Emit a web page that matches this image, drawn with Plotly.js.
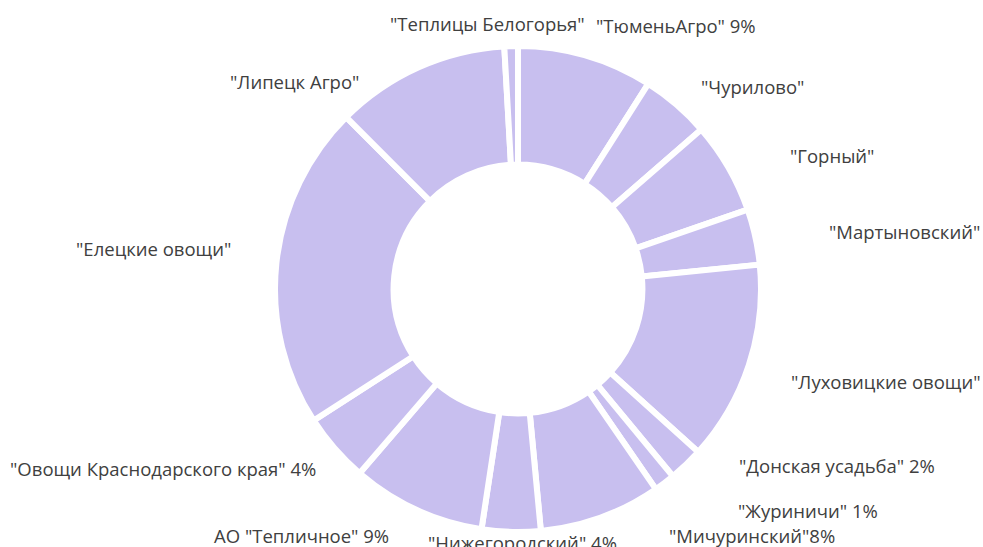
<!DOCTYPE html>
<html>
<head>
<meta charset="utf-8">
<script src="https://cdn.plot.ly/plotly-3.0.1.min.js"></script>
<style>html,body{margin:0;padding:0;background:#fff;}#chart{width:983px;height:547px;}</style>
</head>
<body>
<div id="chart"></div>
<script>
// Slice names (clockwise from 12 o'clock)
const categories = [
  '"ТюменьАгро"', '"Чурилово"', '"Горный"', '"Мартыновский"', '"Луховицкие овощи"',
  '"Донская усадьба"', '"Журиничи"', '"Мичуринский"', '"Нижегородский"', 'АО "Тепличное"',
  '"Овощи Краснодарского края"', '"Елецкие овощи"', '"Липецк Агро"', '"Теплицы Белогорья"'
];
// Shares, %
const shares = [9.0, 4.6, 6.1, 3.7, 13.3, 2.3, 1.4, 8.1, 3.9, 8.9, 4.6, 21.6, 11.6, 0.9];
// Label texts as shown on the chart
const labelTexts = [
  '"ТюменьАгро" 9%', '"Чурилово"', '"Горный"', '"Мартыновский"', '"Луховицкие овощи"',
  '"Донская усадьба" 2%', '"Журиничи" 1%', '"Мичуринский"8%', '"Нижегородский" 4%', 'АО "Тепличное" 9%',
  '"Овощи Краснодарского края" 4%', '"Елецкие овощи"', '"Липецк Агро"', '"Теплицы Белогорья"'
];

// Label placement (layout, in pixels of the 983x547 page)
const W = 983, H = 547;
const labelPos = [
  [676, 26], [752, 86], [832, 156], [904, 232], [886, 381],
  [837, 465], [808, 510], [752, 535], [522, 542], [301, 535],
  [163, 468], [153, 248], [294, 81], [487, 23]
];

const trace = {
  type: 'pie',
  labels: categories,
  values: shares,
  sort: false,
  direction: 'clockwise',
  rotation: 0,
  hole: 0.512,
  textinfo: 'none',
  hoverinfo: 'label+percent',
  marker: {
    colors: categories.map(() => '#c8bfef'),
    line: { color: '#ffffff', width: 6 }
  },
  domain: { x: [275 / W, 761 / W], y: [15 / H, 501 / H] },
  showlegend: false
};

const annotations = labelTexts.map((t, i) => ({
  text: t,
  x: labelPos[i][0] / W,
  y: 1 - labelPos[i][1] / H,
  xref: 'paper', yref: 'paper',
  xanchor: 'center', yanchor: 'middle',
  showarrow: false,
  font: { family: 'Open Sans, sans-serif', size: 18.5, color: '#404040' }
}));

const layout = {
  width: W, height: H,
  margin: { l: 0, r: 0, t: 0, b: 0 },
  paper_bgcolor: '#ffffff',
  plot_bgcolor: '#ffffff',
  annotations: annotations
};

Plotly.newPlot('chart', [trace], layout, { displayModeBar: false, staticPlot: true });
</script>
</body>
</html>
